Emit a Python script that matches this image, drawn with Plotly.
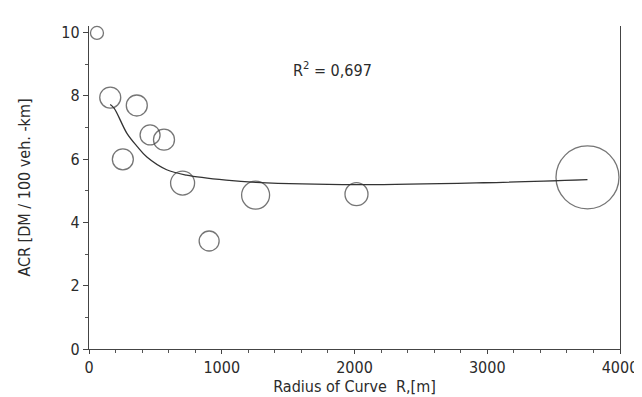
import plotly.graph_objects as go

# Observed data (circles): radius of curve [m], ACR, relative circle size
radius = [60, 160, 360, 460, 565, 255, 705, 1255, 905, 2015, 3755]
acr = [9.98, 7.94, 7.69, 6.76, 6.61, 5.99, 5.24, 4.86, 3.41, 4.89, 5.42]
weight = [13, 21, 21, 20, 21, 21, 24, 28, 20, 23, 63]

# Fitted curve
curve_r = [160, 190, 287, 362, 436, 585, 735, 1033, 1257, 2017, 2972, 3755]
curve_acr = [7.72, 7.60, 6.80, 6.40, 6.06, 5.66, 5.49, 5.33, 5.26, 5.19, 5.25, 5.35]

x_ticks = [0, 1000, 2000, 3000, 4000]
y_ticks = [0, 2, 4, 6, 8, 10]

FONT = "DejaVu Sans Condensed, Roboto, sans-serif"
INK = "#2b2b2b"

fig = go.Figure()
fig.add_trace(go.Scatter(
    x=radius, y=acr, mode="markers",
    marker=dict(symbol="circle-open", size=weight, sizemode="diameter",
                color="#3a3a3a", line=dict(width=1.3, color="#3a3a3a")),
    showlegend=False, cliponaxis=False,
))
fig.add_trace(go.Scatter(
    x=curve_r, y=curve_acr, mode="lines",
    line=dict(shape="spline", smoothing=1.0, color="#333333", width=1.3),
    showlegend=False,
))

fig.add_annotation(
    x=1836, y=8.82, xref="x", yref="y",
    text="R<sup>2</sup> = 0,697", showarrow=False,
    font=dict(family=FONT, size=16, color=INK),
)

fig.update_layout(
    width=642, height=397,
    margin=dict(l=81, r=24, t=18, b=55),
    paper_bgcolor="white", plot_bgcolor="white",
    font=dict(family=FONT, size=16, color=INK),
    xaxis=dict(
        range=[0, 4000], tickvals=x_ticks, ticktext=[str(v) for v in x_ticks],
        showgrid=False, zeroline=False,
        showline=True, linecolor="#444444", linewidth=1.3,
        ticks="outside", ticklen=4, tickcolor="#444444",
        minor=dict(dtick=200, ticks="outside", ticklen=3, tickcolor="#555555"),
        title=dict(text="Radius of Curve  R,[m]", standoff=4,
                   font=dict(family=FONT, size=16, color=INK)),
    ),
    yaxis=dict(
        range=[0, 10.2], tickvals=y_ticks, ticktext=[str(v) for v in y_ticks],
        showgrid=False, zeroline=False,
        showline=True, mirror=True, linecolor="#444444", linewidth=1.3,
        ticks="outside", ticklen=5, tickcolor="#444444",
        minor=dict(dtick=1, ticks="outside", ticklen=3, tickcolor="#555555"),
        title=dict(text="ACR [DM / 100 veh. -km]", standoff=26,
                   font=dict(family=FONT, size=16, color=INK)),
    ),
)

fig.write_html("out.html")
